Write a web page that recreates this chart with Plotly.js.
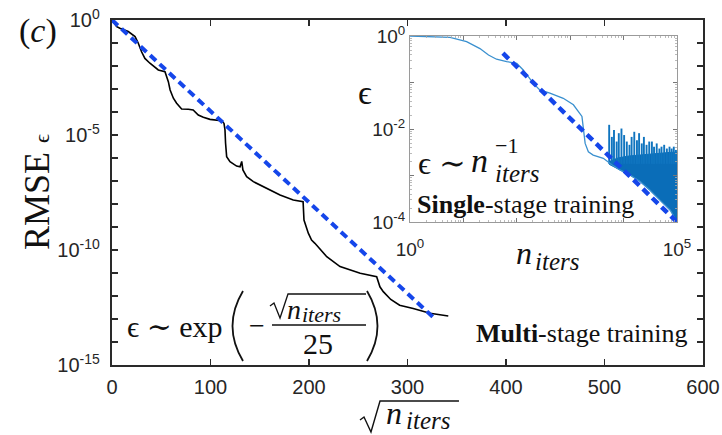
<!DOCTYPE html>
<html>
<head>
<meta charset="utf-8">
<script src="https://cdn.plot.ly/plotly-3.0.1.min.js"></script>
<style>
  html, body { margin: 0; padding: 0; background: #fff; }
  #chart { width: 722px; height: 435px; }
</style>
</head>
<body>
<div id="chart"></div>
<script>
// ---- Multi-stage training: RMSE vs sqrt(n_iters) ----
const sqrtIters = [0, 4.8, 8, 16.5, 23.4, 26.7, 30, 33.4, 38.5, 47, 53.8, 55.5, 57.2, 59, 62.3, 65.6, 70.7, 77.5, 82.4, 87.6, 92.7, 99.5, 111, 113.7, 114.7, 115.3, 116.4, 119.8, 126.5, 130, 131.7, 132.9, 136.7, 143.5, 153.6, 170.6, 184, 194, 194.9, 199.3, 202.6, 206, 218, 231.5, 252, 268.7, 272, 275.4, 283, 292, 305.8, 322.8, 341.4];
// RMSE as powers of ten (log10 of the error)
const rmseLog10 = [0, -0.29, -0.36, -0.5, -0.72, -1.01, -1.38, -1.67, -1.88, -2.17, -2.25, -2.46, -2.68, -3.04, -3.4, -3.62, -3.87, -3.88, -3.91, -4.13, -4.23, -4.32, -4.38, -4.49, -4.78, -5.36, -5.94, -6.16, -6.35, -6.38, -6.15, -6.52, -6.81, -7.03, -7.25, -7.61, -7.83, -7.9, -8.7, -9.27, -9.57, -9.71, -10.29, -10.72, -11.01, -11.16, -11.6, -11.81, -12.15, -12.4, -12.54, -12.75, -12.87];
// fitted trend endpoints
const fitMainX = [0, 328];
const fitMainLog10 = [0, -13.0];

// ---- Single-stage training inset: error vs n_iters ----
const insetLog10N = [0, 0.75, 1.06, 1.31, 1.47, 1.62, 1.81, 2.0, 2.12, 2.31, 2.43, 2.62, 2.87, 3.06, 3.22, 3.25, 3.28, 3.34, 3.43, 3.62, 3.78, 3.93, 4.12, 4.31, 4.49, 4.68, 4.87, 5.0];
const insetLog10Err = [0, -0.03, -0.12, -0.27, -0.41, -0.5, -0.55, -0.59, -0.73, -1.02, -1.16, -1.23, -1.34, -1.48, -1.73, -2.09, -2.31, -2.49, -2.56, -2.63, -2.77, -2.88, -2.99, -3.13, -3.31, -3.53, -3.74, -4.0];
// dense oscillation band at late iterations
const bandLog10N = [3.73, 3.9, 4.1, 4.3, 4.5, 4.7, 4.9, 5.0];
const bandLowLog10 = [-2.76, -2.86, -2.98, -3.12, -3.32, -3.55, -3.78, -4.0];
const bandHighLog10 = [-2.7, -2.62, -2.58, -2.56, -2.54, -2.52, -2.5, -2.5];
// individual loss spikes
const spikeLog10N = [3.73, 3.78, 3.82, 3.87, 3.91, 3.96, 4.01, 4.06, 4.11, 4.15, 4.2, 4.25, 4.29, 4.34, 4.38, 4.43, 4.48, 4.53, 4.57, 4.62, 4.67, 4.71, 4.76, 4.81, 4.86, 4.9, 4.94, 4.98];
const spikeTopLog10 = [-1.91, -2.17, -2.02, -2.27, -2.09, -1.99, -2.13, -2.27, -2.34, -2.17, -2.06, -2.24, -2.09, -2.31, -2.17, -2.34, -2.27, -2.27, -2.38, -2.31, -2.42, -2.38, -2.34, -2.42, -2.38, -2.42, -2.38, -2.45];
const spikeFloorLog10 = -2.75;
const fitInsetLog10N = [1.74, 5.0];
const fitInsetLog10Err = [-0.37, -4.0];

const p10 = v => Math.pow(10, v);

// spikes drawn as vertical strokes separated by gaps
const spikeX = [], spikeY = [];
spikeLog10N.forEach((n, i) => {
  spikeX.push(p10(n), p10(n), null);
  spikeY.push(p10(spikeFloorLog10), p10(spikeTopLog10[i]), null);
});

// closed outline of the oscillation band
const bandX = bandLog10N.map(p10).concat(bandLog10N.slice().reverse().map(p10));
const bandY = bandLowLog10.map(p10).concat(bandHighLog10.slice().reverse().map(p10));

const BLUE_FIT = '#1546ea';
const MATLAB_BLUE = '#0a6db8';

const traces = [
  { x: sqrtIters, y: rmseLog10.map(p10), type: 'scatter', mode: 'lines',
    line: { color: '#000', width: 1.6 }, xaxis: 'x', yaxis: 'y', hoverinfo: 'skip' },
  { x: fitMainX, y: fitMainLog10.map(p10), type: 'scatter', mode: 'lines',
    line: { color: BLUE_FIT, width: 4, dash: '8px,5px' }, xaxis: 'x', yaxis: 'y' },
  { x: bandX, y: bandY, type: 'scatter', mode: 'lines', fill: 'toself',
    fillcolor: MATLAB_BLUE, line: { color: MATLAB_BLUE, width: 1 }, xaxis: 'x2', yaxis: 'y2' },
  { x: spikeX, y: spikeY, type: 'scatter', mode: 'lines', connectgaps: false,
    line: { color: '#0f74bf', width: 1.9 }, xaxis: 'x2', yaxis: 'y2' },
  { x: insetLog10N.map(p10), y: insetLog10Err.map(p10), type: 'scatter', mode: 'lines',
    line: { color: '#3a90cf', width: 1.3 }, xaxis: 'x2', yaxis: 'y2' },
  { x: fitInsetLog10N.map(p10), y: fitInsetLog10Err.map(p10), type: 'scatter', mode: 'lines',
    line: { color: BLUE_FIT, width: 4.5, dash: '8px,5px' }, xaxis: 'x2', yaxis: 'y2' }
];

// ---- geometry helpers (pixel -> paper fraction) ----
const W = 722, H = 435;
const M = { l: 112, r: 19, t: 20, b: 70 };
const PW = W - M.l - M.r, PH = H - M.t - M.b;
const fx = px => (px - M.l) / PW;
const fy = py => (H - M.b - py) / PH;

const SERIF = 'Liberation Serif, DejaVu Serif, serif';
const SANS = 'Liberation Sans, Arial, sans-serif';
const INK = '#262626';

function label(text, x, y, size, opts) {
  return Object.assign({
    text: text, x: fx(x), y: fy(y), xref: 'paper', yref: 'paper',
    showarrow: false, xanchor: 'center', yanchor: 'middle',
    font: { family: SERIF, size: size, color: '#111' }
  }, opts || {});
}
const L = { xanchor: 'left' };

function pathOf(points) {
  return points.map((p, i) => (i ? 'L' : 'M') + fx(p[0]).toFixed(4) + ',' + fy(p[1]).toFixed(4)).join(' ');
}
function paren(xEnd, xMid, yTop, yBot) {
  const yc = (yTop + yBot) / 2;
  return 'M' + fx(xEnd) + ',' + fy(yTop) + ' Q' + fx(xMid) + ',' + fy(yc) + ' ' + fx(xEnd) + ',' + fy(yBot);
}

const annotations = [
  label('(<i>c</i>)', 38, 31, 34),
  label('RMSE <span style="font-size:22px">ϵ</span>', 37, 192, 36, { textangle: -90 }),
  // x-axis title: sqrt(n_iters)
  label('<i>n</i>', 384, 413, 32, L),
  label('<i>iters</i>', 404, 420, 25, L),
  // main fit formula
  label('ϵ ∼ exp', 125, 326, 30, L),
  label('−', 257, 325, 28),
  label('<i>n</i>', 285, 309, 28, L),
  label('<i>iters</i>', 300, 314, 22, L),
  label('25', 318, 343, 30),
  label('<b>Multi</b>-stage training', 690, 333, 26, { xanchor: 'right' }),
  // inset labels
  label('ϵ', 365, 93, 34),
  label('<i>n</i>', 514, 253, 32, L),
  label('<i>iters</i>', 533, 261, 25, L),
  label('ϵ ∼', 416, 163, 32, L),
  label('<i>n</i>', 469, 160, 34, L),
  label('−1', 493, 145, 22, L),
  label('<i>iters</i>', 493, 173, 25, L),
  label('<b>Single</b>-stage training', 415, 205, 26, L)
];

const shapes = [
  // radical of the axis title
  { type: 'path', xref: 'paper', yref: 'paper',
    path: pathOf([[360, 420], [364, 417], [371, 432], [380, 401], [459, 401]]),
    line: { color: '#111', width: 1.4 } },
  // radical and fraction bar in the formula
  { type: 'path', xref: 'paper', yref: 'paper',
    path: pathOf([[270, 306], [274, 303], [280, 318], [288, 294], [366, 294]]),
    line: { color: '#111', width: 1.3 } },
  { type: 'path', xref: 'paper', yref: 'paper',
    path: pathOf([[272, 325], [366, 325]]), line: { color: '#111', width: 1.4 } },
  { type: 'path', xref: 'paper', yref: 'paper', path: paren(243, 222, 291, 361),
    line: { color: '#111', width: 1.8 } },
  { type: 'path', xref: 'paper', yref: 'paper', path: paren(367, 388, 291, 361),
    line: { color: '#111', width: 1.8 } }
];

const mainYVals = [], mainYText = [];
for (let d = 0; d >= -15; d--) {
  mainYVals.push(p10(d));
  mainYText.push(d % 5 === 0 ? '10<sup>' + (d === 0 ? '0' : '-' + (-d)) + '</sup>' : '');
}
const insetYVals = [1, 0.1, 0.01, 0.001, 1e-4];
const insetYText = ['10<sup>0</sup>', '', '10<sup>-2</sup>', '', '10<sup>-4</sup>'];
const insetXVals = [1, 10, 100, 1000, 1e4, 1e5];
const insetXText = ['10<sup>0</sup>', '', '', '', '', '10<sup>5</sup>'];

// log-scale minor tick positions (2..9 within each decade) for the inset
function minorLogTicks(lo, hi) {
  const out = [];
  for (let e = lo; e < hi; e++) for (let m = 2; m <= 9; m++) out.push(m * Math.pow(10, e));
  return out;
}

const mainAxis = {
  showline: true, linecolor: '#2a2a2a', linewidth: 2.2, mirror: 'ticks',
  ticks: 'inside', ticklen: 6, tickwidth: 1.6, tickcolor: '#2a2a2a',
  showgrid: false, zeroline: false,
  tickfont: { family: SANS, size: 20, color: INK }
};
const insetAxis = {
  showline: true, linecolor: '#9a9a9a', linewidth: 1, mirror: 'ticks',
  ticks: 'inside', ticklen: 4, tickwidth: 1, tickcolor: '#777',
  showgrid: false, zeroline: false,
  tickfont: { family: SANS, size: 19, color: INK }
};

const layout = {
  width: W, height: H, margin: M,
  paper_bgcolor: '#fff', plot_bgcolor: '#fff', showlegend: false,
  xaxis: Object.assign({}, mainAxis, { range: [0, 600], tickmode: 'array',
    tickvals: [0, 100, 200, 300, 400, 500, 600], ticklabelstandoff: 3 }),
  yaxis: Object.assign({}, mainAxis, { type: 'log', range: [-15, 0], tickmode: 'array',
    tickvals: mainYVals, ticktext: mainYText, ticklabelstandoff: 6 }),
  xaxis2: Object.assign({}, insetAxis, { type: 'log', range: [0, 5], anchor: 'y2',
    domain: [fx(410), fx(677)], tickmode: 'array', tickvals: insetXVals, ticktext: insetXText,
    ticklabelstandoff: 10,
    minor: { ticks: 'inside', ticklen: 2, tickcolor: '#aaa', tickwidth: 0.8,
             tickmode: 'array', tickvals: minorLogTicks(0, 5) } }),
  yaxis2: Object.assign({}, insetAxis, { type: 'log', range: [-4, 0], anchor: 'x2',
    domain: [fy(222), fy(36)], tickmode: 'array', tickvals: insetYVals, ticktext: insetYText,
    minor: { ticks: 'inside', ticklen: 2, tickcolor: '#aaa', tickwidth: 0.8,
             tickmode: 'array', tickvals: minorLogTicks(-4, 0) } }),
  annotations: annotations,
  shapes: shapes
};

Plotly.newPlot('chart', traces, layout, { staticPlot: true, displayModeBar: false });
</script>
</body>
</html>
